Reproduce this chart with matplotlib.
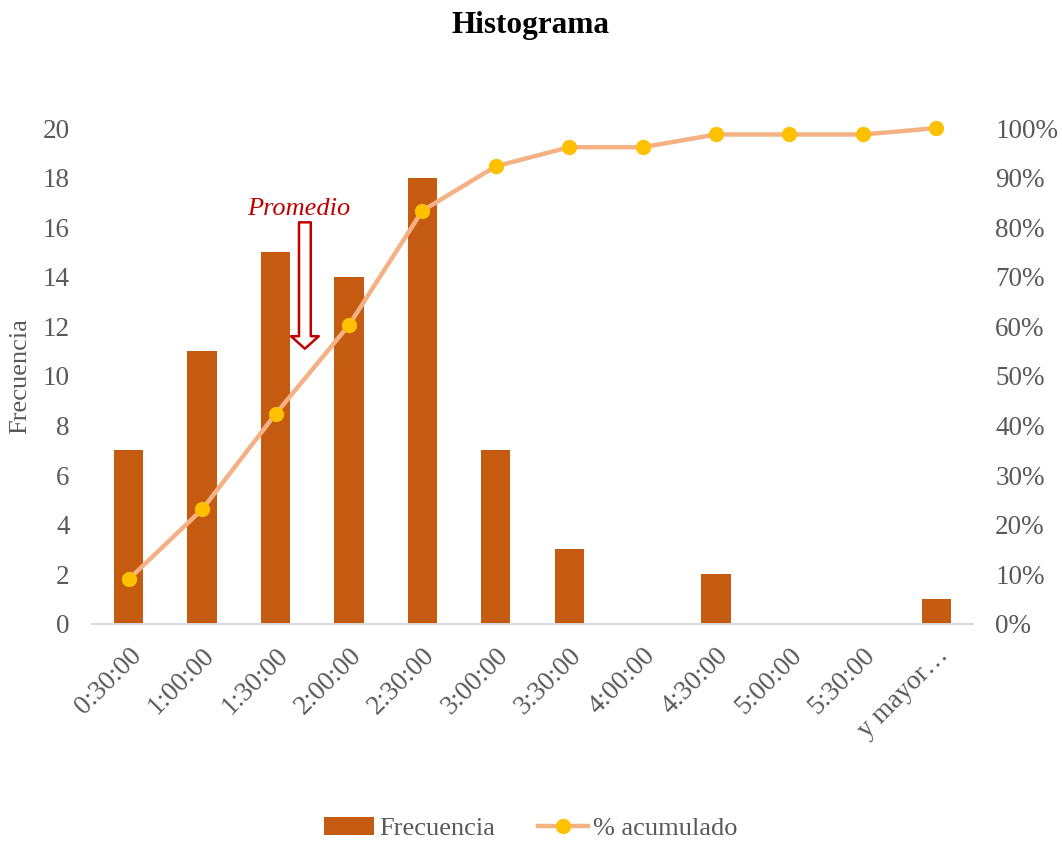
import matplotlib.pyplot as plt
from matplotlib.ticker import PercentFormatter

plt.rcParams['font.family'] = ['Liberation Serif', 'DejaVu Serif']

# datos
clases = ['0:30:00', '1:00:00', '1:30:00', '2:00:00', '2:30:00', '3:00:00',
          '3:30:00', '4:00:00', '4:30:00', '5:00:00', '5:30:00', 'y mayor…']
frecuencia = [7, 11, 15, 14, 18, 7, 3, 0, 2, 0, 0, 1]
acumulado = [8.97, 23.08, 42.31, 60.26, 83.33, 92.31, 96.15, 96.15,
             98.72, 98.72, 98.72, 100.0]

gris = '#595959'
x = list(range(len(clases)))

fig = plt.figure(figsize=(10.62, 8.43), dpi=100)
ax = fig.add_axes([0.0866, 0.26, 0.8296, 0.588])
ax2 = ax.twinx()

barras = ax.bar(x, frecuencia, width=0.4, color='#C55A11', label='Frecuencia', zorder=2)
linea, = ax2.plot(x, acumulado, color='#F4B183', lw=3.2, marker='o', ms=10,
                  mfc='#FFC000', mec='#FFC000', label='% acumulado', zorder=3,
                  clip_on=False)

ax.set_xlim(-0.5, len(clases) - 0.5)
ax.set_ylim(0, 20)
ax.set_yticks(range(0, 21, 2))
ax2.set_ylim(0, 100)
ax2.set_yticks(range(0, 101, 10))
ax2.yaxis.set_major_formatter(PercentFormatter(decimals=0))

ax.set_xticks(x)
ax.set_xticklabels(clases, rotation=45, ha='right', rotation_mode='anchor')

for a in (ax, ax2):
    for s in ['top', 'right', 'left']:
        a.spines[s].set_visible(False)
    a.spines['bottom'].set_color('#D9D9D9')
    a.spines['bottom'].set_linewidth(1.2)
    a.tick_params(length=0, labelsize=19.5, colors=gris, pad=16)
ax.tick_params(axis='x', pad=14)

ax.set_ylabel('Frecuencia', fontsize=19, color=gris, labelpad=8)
fig.suptitle('Histograma', fontsize=22.5, fontweight='bold', y=0.987)

# flecha del promedio
ax.annotate('', xy=(2.4, 11.1), xytext=(2.4, 16.2),
            arrowprops=dict(arrowstyle='simple,head_length=0.9,head_width=2.0,tail_width=0.85',
                            fc='white', ec='#C00000', lw=1.8, mutation_scale=10,
                            shrinkA=0, shrinkB=0), zorder=4)
ax.text(2.31, 16.75, 'Promedio', color='#C00000', fontsize=19, style='italic',
        ha='center', va='center', zorder=4)

fig.legend([barras, linea], ['Frecuencia', '% acumulado'], loc='lower center',
           bbox_to_anchor=(0.5, -0.025), ncol=2, frameon=False, fontsize=19,
           labelcolor=gris, handlelength=1.9, columnspacing=1.6, handletextpad=0.2)

fig.savefig('out.png', dpi=100)
